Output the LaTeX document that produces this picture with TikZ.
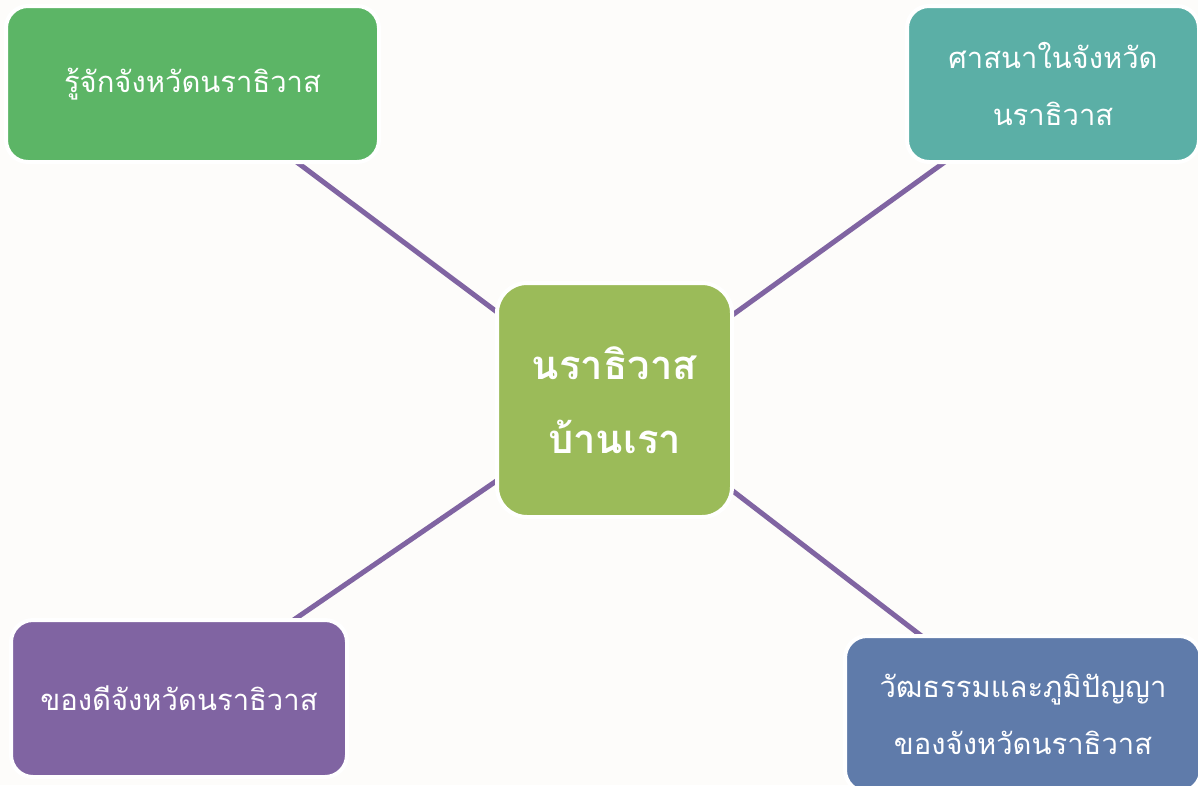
\documentclass[tikz,border=0pt]{standalone}
\usepackage{fontspec}
\newfontfamily\thai[Script=Thai]{Loma}
\usetikzlibrary{backgrounds}
\definecolor{bgc}{HTML}{FDFCFA}
\definecolor{cgreen}{HTML}{5CB566}
\definecolor{cteal}{HTML}{5BAFA6}
\definecolor{colive}{HTML}{9BBB59}
\definecolor{cpurple}{HTML}{8064A2}
\definecolor{cblue}{HTML}{5F7BAA}
\definecolor{clink}{HTML}{8064A2}
\tikzset{
  topic/.style={rectangle, rounded corners=22pt, draw=white, line width=4pt,
    inner sep=0pt, align=center, text=white, font=\thai\fontsize{29.2}{57}\selectfont},
  hub/.style={topic, rounded corners=30pt, font=\thai\bfseries\fontsize{40}{74}\selectfont},
  link/.style={draw=clink, line width=5pt}
}
\begin{document}
\begin{tikzpicture}[x=1pt,y=-1pt]
\useasboundingbox (0,0) rectangle (1198,785);
\node[hub, fill=colive, minimum width=235pt, minimum height=234pt] (c) at (614.5,400) {นราธิวาส\\บ้านเรา};
\node[topic, fill=cgreen, minimum width=373pt, minimum height=156pt] (tl) at (192.5,84) {รู้จักจังหวัดนราธิวาส};
\node[topic, fill=cteal, minimum width=292pt, minimum height=156pt] (tr) at (1053,84) {ศาสนาในจังหวัด\\นราธิวาส};
\node[topic, fill=cpurple, minimum width=336pt, minimum height=157pt] (bl) at (179,698.5) {ของดีจังหวัดนราธิวาส};
\node[topic, fill=cblue, minimum width=356pt, minimum height=156pt] (br) at (1023,714) {วัฒธรรมและภูมิปัญญา\\ของจังหวัดนราธิวาส};
\begin{scope}[on background layer]
\fill[bgc] (0,0) rectangle (1198,785);
\draw[link] (c.center) -- (tl.center);
\draw[link] (c.center) -- (tr.center);
\draw[link] (c.center) -- (bl.center);
\draw[link] (c.center) -- (br.center);
\end{scope}
\end{tikzpicture}
\end{document}
